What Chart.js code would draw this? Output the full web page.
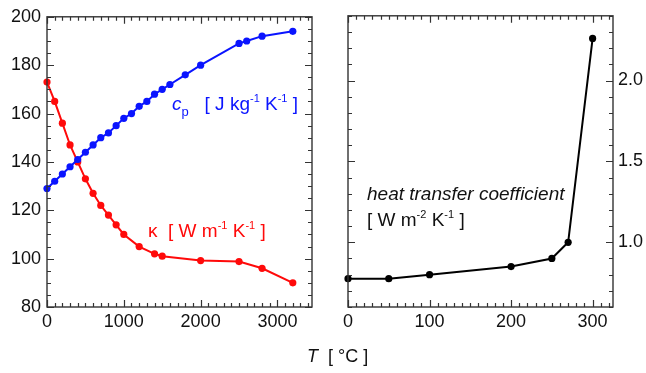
<!DOCTYPE html>
<html>
<head>
<meta charset="utf-8">
<script src="https://cdn.jsdelivr.net/npm/chart.js@4.4.0/dist/chart.umd.min.js"></script>
<style>
  html, body { margin: 0; padding: 0; background: #fff; }
  #wrap { position: relative; width: 646px; height: 373px; overflow: hidden; }
  #cLeft { position: absolute; left: 0; top: 0; }
  #cRight { position: absolute; left: 320px; top: 0; }
  #xTitle {
    position: absolute; left: 307px; top: 347px;
    font: 18px "Liberation Sans", Arial, sans-serif; line-height: 18px;
    color: #111; white-space: pre;
  }
</style>
</head>
<body>
<div id="wrap">
  <canvas id="cLeft" width="320" height="373"></canvas>
  <canvas id="cRight" width="326" height="373"></canvas>
  <div id="xTitle"><i>T</i>  [ °C ]</div>
</div>
<script>
// ---- left panel: specific heat and thermal conductivity vs temperature
const cpTemp = [0, 100, 200, 300, 400, 500, 600, 700, 800, 900, 1000, 1100, 1200, 1300, 1400, 1500, 1600, 1800, 2000, 2500, 2600, 2800, 3200];
const cpVal  = [129, 132, 135, 138, 141, 144, 147, 150, 152, 155, 158, 160, 163, 165, 168, 170, 172, 176, 180, 189, 190, 192, 194];

const kTemp = [0, 100, 200, 300, 400, 500, 600, 700, 800, 900, 1000, 1200, 1400, 1500, 2000, 2500, 2800, 3200];
const kVal  = [173, 165, 156, 147, 140, 133, 127, 122, 118, 114, 110, 105, 102, 101, 99.2, 98.8, 96, 90];

// ---- right panel: heat transfer coefficient
const hTemp = [0, 50, 100, 200, 250, 270, 300];
const hVal  = [0.775, 0.775, 0.8, 0.85, 0.9, 1.0, 2.26];

const FONT = '"Liberation Sans", Arial, sans-serif';
const BLUE = '#0a14ff';
const RED = '#ff0a0a';
const FRAME = '#333';

function pts(xs, ys) {
  return xs.map((x, i) => ({ x: x, y: ys[i] }));
}

function near(v, step) {
  const r = v / step;
  return Math.abs(r - Math.round(r)) < 1e-6;
}

// box around the plot area with inward ticks on all four sides
const frameTicks = {
  id: 'frameTicks',
  afterDraw(chart, args, o) {
    const { ctx, chartArea: a } = chart;
    const xs = chart.scales.x, ys = chart.scales.y;
    ctx.save();
    ctx.strokeStyle = FRAME;
    ctx.lineWidth = 1.4;
    ctx.strokeRect(a.left, a.top, a.right - a.left, a.bottom - a.top);
    ctx.lineWidth = 1.2;
    ctx.beginPath();
    xs.ticks.forEach(t => {
      const px = Math.round(xs.getPixelForValue(t.value)) + 0.5;
      const len = near(t.value, o.xMajor) ? 7 : 4;
      ctx.moveTo(px, a.bottom); ctx.lineTo(px, a.bottom - len);
      ctx.moveTo(px, a.top); ctx.lineTo(px, a.top + len);
    });
    ys.ticks.forEach(t => {
      const py = Math.round(ys.getPixelForValue(t.value)) + 0.5;
      const len = near(t.value, o.yMajor) ? 7 : 4;
      ctx.moveTo(a.left, py); ctx.lineTo(a.left + len, py);
      ctx.moveTo(a.right, py); ctx.lineTo(a.right - len, py);
    });
    ctx.stroke();
    ctx.restore();
  }
};

// text with sub/superscripts; parts = [[text, kind], ...]
function drawRich(ctx, x, y, parts, color, size) {
  let cx = x;
  ctx.save();
  ctx.fillStyle = color;
  ctx.textBaseline = 'alphabetic';
  ctx.textAlign = 'left';
  for (const [txt, kind] of parts) {
    let fs = size, dy = 0, style = '';
    if (kind === 'sup') { fs = Math.round(size * 0.6); dy = -size * 0.42; }
    if (kind === 'sub') { fs = Math.round(size * 0.68); dy = size * 0.33; }
    if (kind === 'i') style = 'italic ';
    ctx.font = style + fs + 'px ' + FONT;
    ctx.fillText(txt, cx, y + dy);
    cx += ctx.measureText(txt).width;
  }
  ctx.restore();
}

const leftLabels = {
  id: 'leftLabels',
  afterDraw(chart) {
    const ctx = chart.ctx;
    drawRich(ctx, 172, 110, [['c', 'i'], ['p', 'sub'], ['   [ J kg', ''], ['-1', 'sup'], [' K', ''], ['-1', 'sup'], [' ]', '']], BLUE, 19);
    drawRich(ctx, 148, 237, [['\u03BA', ''], ['  [ W m', ''], ['-1', 'sup'], [' K', ''], ['-1', 'sup'], [' ]', '']], RED, 19);
  }
};

const rightLabels = {
  id: 'rightLabels',
  afterDraw(chart) {
    const ctx = chart.ctx;
    // canvas sits 320px to the right
    drawRich(ctx, 367 - 320, 200, [['heat transfer coefficient', 'i']], '#111', 19);
    drawRich(ctx, 367 - 320, 226, [['[ W m', ''], ['-2', 'sup'], [' K', ''], ['-1', 'sup'], [' ]', '']], '#111', 19);
  }
};

function tickFont() {
  return { family: FONT, size: 18 };
}

function lineSet(data, color) {
  return {
    data: data,
    borderColor: color,
    backgroundColor: color,
    borderWidth: 2,
    pointRadius: 3.6,
    pointBorderWidth: 0,
    pointBackgroundColor: color,
    tension: 0,
    clip: false
  };
}

new Chart(document.getElementById('cLeft'), {
  type: 'line',
  data: {
    datasets: [lineSet(pts(cpTemp, cpVal), BLUE), lineSet(pts(kTemp, kVal), RED)]
  },
  options: {
    responsive: false,
    animation: false,
    layout: { padding: { top: 15, right: 8, left: 0, bottom: 0 } },
    plugins: { legend: { display: false }, tooltip: { enabled: false }, frameTicks: { xMajor: 1000, yMajor: 20 } },
    scales: {
      x: {
        type: 'linear', min: 0, max: 3450,
        grid: { display: false, drawTicks: false }, border: { display: false },
        ticks: {
          stepSize: 100, autoSkip: false, includeBounds: false, maxRotation: 0, padding: 4,
          color: '#111', font: tickFont(),
          callback: v => near(v, 1000) ? String(Math.round(v)) : ''
        },
        afterFit: s => { s.height = 66; }
      },
      y: {
        type: 'linear', min: 80, max: 200,
        grid: { display: false, drawTicks: false }, border: { display: false },
        ticks: {
          stepSize: 5, autoSkip: false, padding: 6,
          color: '#111', font: tickFont(),
          callback: v => near(v, 20) ? String(Math.round(v)) : ''
        },
        afterFit: s => { s.width = 47; }
      }
    }
  },
  plugins: [frameTicks, leftLabels]
});

new Chart(document.getElementById('cRight'), {
  type: 'line',
  data: {
    datasets: [lineSet(pts(hTemp, hVal), '#000')]
  },
  options: {
    responsive: false,
    animation: false,
    layout: { padding: { top: 15, right: 0, left: 28, bottom: 0 } },
    plugins: { legend: { display: false }, tooltip: { enabled: false }, frameTicks: { xMajor: 100, yMajor: 0.5 } },
    scales: {
      x: {
        type: 'linear', min: 0, max: 325,
        grid: { display: false, drawTicks: false }, border: { display: false },
        ticks: {
          stepSize: 10, autoSkip: false, includeBounds: false, maxRotation: 0, padding: 4,
          color: '#111', font: tickFont(),
          callback: v => near(v, 100) ? String(Math.round(v)) : ''
        },
        afterFit: s => { s.height = 66; }
      },
      y: {
        type: 'linear', position: 'right', min: 0.6, max: 2.4,
        grid: { display: false, drawTicks: false }, border: { display: false },
        ticks: {
          stepSize: 0.1, autoSkip: false, padding: 5,
          color: '#111', font: tickFont(),
          callback: v => (near(v, 0.5) && v > 0.9) ? v.toFixed(1) : ''
        },
        afterFit: s => { s.width = 33; }
      }
    }
  },
  plugins: [frameTicks, rightLabels]
});
</script>
</body>
</html>
